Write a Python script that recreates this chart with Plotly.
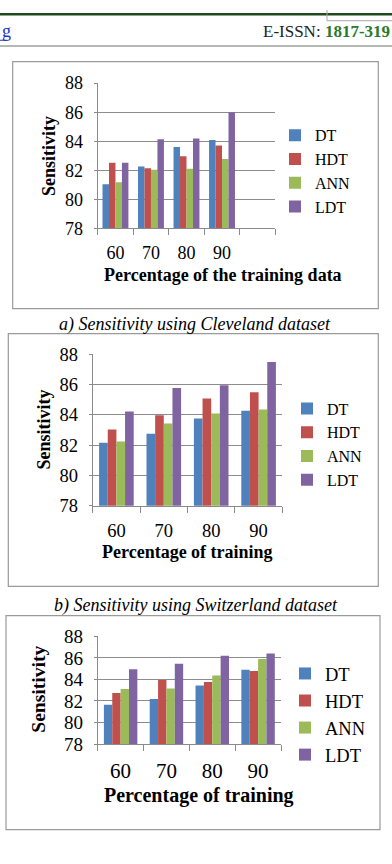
import plotly.graph_objects as go

W, H = 392, 864

# ---------------- data ----------------
training_pct = [60, 70, 80, 90]
tick_labels = ["60", "70", "80", "90"]
methods = ["DT", "HDT", "ANN", "LDT"]
colors = ["#4F81BD", "#C0504D", "#9BBB59", "#8064A2"]

cleveland_dt = [81.04, 82.25, 83.60, 84.09]
cleveland_hdt = [82.52, 82.13, 82.97, 83.71]
cleveland_ann = [81.17, 82.04, 82.10, 82.78]
cleveland_ldt = [82.52, 84.13, 84.18, 86.00]

switzerland_dt = [82.15, 82.75, 83.76, 84.26]
switzerland_hdt = [83.03, 83.96, 85.07, 85.49]
switzerland_ann = [82.24, 83.42, 84.09, 84.34]
switzerland_ldt = [84.21, 85.76, 85.94, 87.48]

third_dt = [81.64, 82.18, 83.43, 84.90]
third_hdt = [82.73, 83.94, 83.76, 84.78]
third_ann = [83.12, 83.15, 84.36, 85.90]
third_ldt = [84.94, 85.45, 86.21, 86.42]

y_ticks = [78, 80, 82, 84, 86, 88]

charts = [
    [cleveland_dt, cleveland_hdt, cleveland_ann, cleveland_ldt],
    [switzerland_dt, switzerland_hdt, switzerland_ann, switzerland_ldt],
    [third_dt, third_hdt, third_ann, third_ldt],
]


def px(x):
    return x / W


def py(y):
    return 1 - y / H


SERIF = "Liberation Serif, Times New Roman, serif"
GRID = "#8c8c8c"
AXIS = "#8a8a8a"

# plot areas in pixels: (x0, x1, ytop, ybottom)
areas = [
    (97.7, 275.3, 75.0, 223.7),
    (92.7, 282.3, 352.7, 508.0),
    (97.7, 281.0, 642.0, 752.3),
]
x_ranges = [[55, 105], [55, 95], [55, 95]]
xtick_font = [18, 18.5, 21]
ytick_font = [18, 18.5, 19]
legend_font = [16, 16, 18.5]
legend_pos = [(275, 111), (287, 391), (285, 661)]

fig = go.Figure()

for ci, series in enumerate(charts):
    sfx = "" if ci == 0 else str(ci + 1)
    for si, vals in enumerate(series):
        fig.add_trace(go.Bar(
            x=training_pct, y=vals, name=methods[si],
            marker=dict(color=colors[si], line=dict(width=0)),
            xaxis="x" + sfx, yaxis="y" + sfx,
            legend="legend" + sfx,
            hoverinfo="skip",
        ))

layout = dict(
    width=W, height=H,
    margin=dict(l=0, r=0, t=0, b=0),
    paper_bgcolor="white", plot_bgcolor="white",
    barmode="group", bargap=0.27, bargroupgap=0,
    font=dict(family=SERIF, color="black"),
    showlegend=True,
)

for ci in range(3):
    sfx = "" if ci == 0 else str(ci + 1)
    x0, x1, yt, yb = areas[ci]
    lo, hi = x_ranges[ci]
    bounds = list(range(lo, hi + 1, 10))
    layout["xaxis" + sfx] = dict(
        domain=[px(x0), px(x1)], anchor="y" + sfx,
        range=[lo, hi], tickmode="array", tickvals=training_pct, ticktext=tick_labels,
        ticks="", showgrid=False, zeroline=False,
        showline=True, linecolor=AXIS, linewidth=1,
        minor=dict(tickmode="array", tickvals=bounds, ticks="outside", ticklen=6,
                   tickwidth=1, tickcolor=AXIS, showgrid=False),
        tickfont=dict(size=xtick_font[ci], family=SERIF, color="black"),
        ticklabelstandoff=8, fixedrange=True,
    )
    layout["yaxis" + sfx] = dict(
        domain=[py(yb), py(yt)], anchor="x" + sfx,
        range=[78, 88], tickmode="array", tickvals=y_ticks,
        showgrid=True, gridcolor=GRID, gridwidth=1, zeroline=False,
        showline=True, linecolor=AXIS, linewidth=1,
        ticks="outside", ticklen=3, tickcolor=AXIS,
        tickfont=dict(size=ytick_font[ci], family=SERIF, color="black"),
        ticklabelstandoff=7, fixedrange=True,
    )
    lx, ly = legend_pos[ci]
    layout["legend" + sfx] = dict(
        x=px(lx), y=py(ly), xanchor="left", yanchor="top",
        xref="paper", yref="paper",
        font=dict(size=legend_font[ci], family=SERIF, color="black"),
        bgcolor="rgba(0,0,0,0)", borderwidth=0, itemclick=False, itemdoubleclick=False,
    )

fig.update_layout(**layout)

shapes = []
# header lines
shapes.append(dict(type="rect", xref="paper", yref="paper", x0=0, x1=1, y0=py(5.7), y1=py(3.2),
                   fillcolor="#1f4a1f", line=dict(width=0)))
shapes.append(dict(type="line", xref="paper", yref="paper", x0=0, x1=1, y0=py(37), y1=py(37),
                   line=dict(color="#9aa39a", width=1.5)))
shapes.append(dict(type="line", xref="paper", yref="paper", x0=px(327), x1=px(327), y0=py(0), y1=py(11),
                   line=dict(color="#a8a8a8", width=1)))
shapes.append(dict(type="line", xref="paper", yref="paper", x0=px(327), x1=1, y0=py(11), y1=py(11),
                   line=dict(color="#a8a8a8", width=1)))
# underline of link "g"
shapes.append(dict(type="line", xref="paper", yref="paper", x0=0, x1=px(7.5), y0=py(31), y1=py(31),
                   line=dict(color="#2233bb", width=1)))
# chart frames
frames = [(12.7, 53, 378.3, 306), (8.3, 331.7, 378.3, 590.7), (6, 620.7, 380, 840)]
for (a, b, c, d) in frames:
    shapes.append(dict(type="rect", xref="paper", yref="paper", x0=px(a), x1=px(c), y0=py(d), y1=py(b),
                       line=dict(color="#9a9a9a", width=1.2), fillcolor="rgba(0,0,0,0)", layer="below"))

annotations = []


def txt(text, x, y, size, xanchor="center", yanchor="middle", angle=0, color="black", family=SERIF):
    annotations.append(dict(text=text, x=px(x), y=py(y), xref="paper", yref="paper",
                            xanchor=xanchor, yanchor=yanchor, showarrow=False, textangle=angle,
                            font=dict(size=size, family=family, color=color)))


txt("g", 0, 22, 18, xanchor="left", color="#2233bb")
txt('E-ISSN: <b><span style="color:#2b7a2b">1817-319</span></b>', 392, 22.5, 17, xanchor="right", color="#222222")

# axis titles
txt("<b>Sensitivity</b>", 49, 149.6, 18, angle=-90)
txt("<b>Percentage of the training data</b>", 222.8, 271.7, 18)
txt("<b>Sensitivity</b>", 44, 430, 18, angle=-90)
txt("<b>Percentage of training</b>", 187, 556, 18)
txt("<b>Sensitivity</b>", 39, 696.7, 19.6, angle=-90)
txt("<b>Percentage of training</b>", 199, 805, 20)

# captions
txt("<i>a) Sensitivity using Cleveland dataset</i>", 195, 322, 18)
txt("<i>b) Sensitivity using Switzerland dataset</i>", 195.8, 610, 18)

fig.update_layout(shapes=shapes, annotations=annotations)

fig.write_html("out.html", config={"displayModeBar": False, "staticPlot": True})
